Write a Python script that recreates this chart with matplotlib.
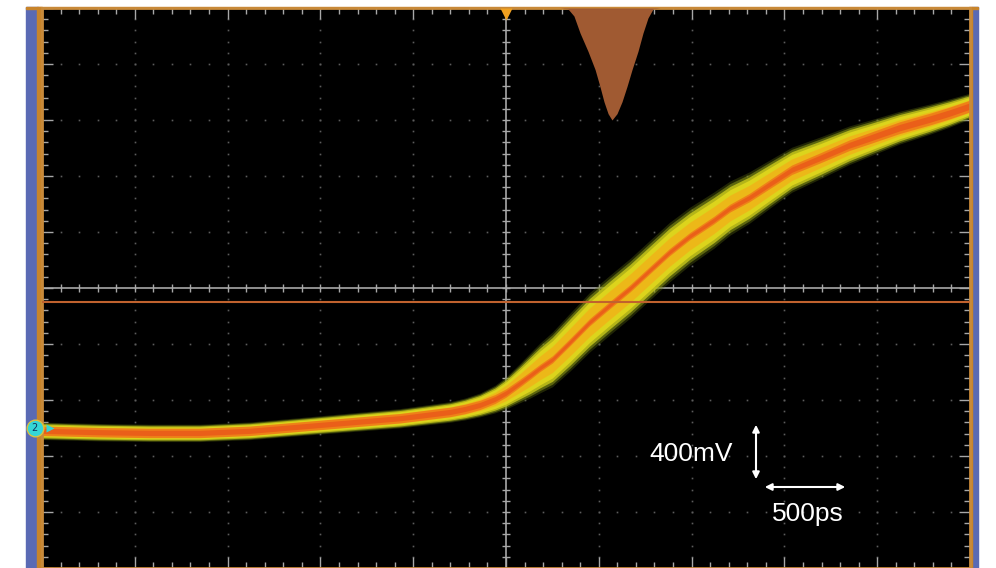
import numpy as np
import matplotlib
matplotlib.use('Agg')
import matplotlib.pyplot as plt
from matplotlib.patches import Rectangle, FancyArrowPatch

# Trace centre line (time in ps, level in mV)
trace_t = [-2500, -2190, -1920, -1650, -1380, -1110, -840, -570, -300, -221, -140, -59,
           0, 75, 130, 183, 250, 345, 450, 560, 670, 776, 880, 991, 1120, 1207, 1310,
           1422, 1540, 1692, 1850, 1961, 2120, 2285, 2390, 2500]
trace_v = [-1020, -1030, -1035, -1035, -1020, -990, -960, -930, -885, -864, -835, -793,
           -750, -679, -625, -571, -510, -386, -245, -121, 0, 129, 255, 371, 485, 571, 645,
           743, 845, 929, 1020, 1071, 1145, 1207, 1250, 1300]
# half width of the persistence band (mV)
band_w = [54, 54, 54, 54, 55, 56, 58, 60, 64, 68, 74, 86,
          100, 122, 140, 155, 170, 180, 185, 185, 185, 185, 185, 180, 175, 168, 160,
          150, 140, 130, 120, 112, 102, 94, 88, 80]
# half width of the hot (red) core (mV)
core_w = [34, 34, 34, 34, 34, 34, 34, 34, 34, 34, 33, 32,
          30, 28, 27, 26, 26, 26, 26, 26, 26, 26, 26, 26, 27, 28, 30,
          32, 34, 36, 38, 40, 42, 42, 42, 42]

# crossing-time histogram at the top of the screen
hist_t = [291, 334, 366, 399, 442, 480, 506, 528, 550, 571, 598, 625, 652, 679,
          711, 738, 765, 792, 830]
hist_h = [0, 7, 57, 179, 310, 440, 560, 670, 755, 800, 755, 670, 560, 440,
          310, 179, 71, 7, 0]

ref_level = -100  # horizontal cursor (mV)

W, H = 996, 568
fig = plt.figure(figsize=(W / 100, H / 100), dpi=100)
fig.patch.set_facecolor('white')

L, R, T, B = 42, 970, 8, 568
ax = fig.add_axes([L / W, 1 - B / H, (R - L) / W, (B - T) / H])
ax.set_facecolor('black')
ax.set_xlim(-2500, 2500)
ax.set_ylim(-2000, 2000)

grid_col = '#a8a8a8'
# edge ticks
ax.set_xticks(np.arange(-2500, 2501, 500))
ax.set_xticks(np.arange(-2500, 2501, 100), minor=True)
ax.set_yticks(np.arange(-2000, 2001, 400))
ax.set_yticks(np.arange(-2000, 2001, 80), minor=True)
ax.tick_params(which='both', direction='in', top=True, right=True, labelbottom=False,
               labelleft=False, color=grid_col, width=1)
ax.tick_params(which='major', length=8)
ax.tick_params(which='minor', length=4)
for s in ax.spines.values():
    s.set_color('#c88a3a')
    s.set_linewidth(2)

# dotted graticule
minor_x = np.arange(-2400, 2401, 100)
minor_y = np.arange(-1920, 1921, 80)
for k in range(-4, 5):
    if k == 0:
        continue
    ax.plot(minor_x, np.full(len(minor_x), k * 400), ls='none', marker='s',
            markersize=1.2, color='#5c5c5c', mec='none', zorder=1)
    ax.plot(np.full(len(minor_y), k * 500), minor_y, ls='none', marker='s',
            markersize=1.2, color='#5c5c5c', mec='none', zorder=1)

# centre cross with ticks
ax.axhline(0, color=grid_col, lw=1.2, zorder=1)
ax.axvline(0, color=grid_col, lw=1.2, zorder=1)
ax.plot(minor_x, np.zeros(len(minor_x)), ls='none', marker='|', markersize=6,
        color=grid_col, zorder=1)
ax.plot(np.zeros(len(minor_y)), minor_y, ls='none', marker='_', markersize=6,
        color=grid_col, zorder=1)

# persistence band, soft edges from several layers
t = np.array(trace_t)
v = np.array(trace_v)
w = np.array(band_w)
c = np.array(core_w)
layers = [(1.15 * w, '#5e6c10', 0.35), (1.04 * w, '#8f9a16', 0.55),
          (0.92 * w, '#c4c41a', 0.85), (0.78 * w, '#dcd41c', 1.0),
          (0.55 * w, '#f0b418', 0.85), (c, '#ef7418', 0.8), (0.55 * c, '#e8441a', 0.55)]
for hw, col, a in layers:
    ax.fill_between(t, v - hw, v + hw, color=col, alpha=a, lw=0, zorder=2)

# histogram
ht = np.array(hist_t)
hh = np.array(hist_h)
ax.fill_between(ht, 2000 - hh, 2000, color='#a05a32', lw=0, zorder=3)

# reference level cursor
ax.axhline(ref_level, color='#c0622e', lw=1.5, zorder=4)

# trigger marker
ax.plot([0], [1960], marker='v', markersize=9, color='#f0a020', mec='none',
        clip_on=False, zorder=6)

# channel 2 marker, just left of the screen
ax.plot([-2540], [-1000], marker='o', markersize=12, color='#34d6d6', mec='#d8c040',
        mew=1, clip_on=False, zorder=10)
ax.text(-2540, -1000, '2', ha='center', va='center', fontsize=7, color='#10305a',
        clip_on=False, zorder=11)
ax.plot([-2455], [-1000], marker='>', markersize=6, color='#34d6d6', mec='none',
        clip_on=False, zorder=10)


def fp(px, py):
    return px / W, 1 - py / H


# bezel strips, under the axes
strip = dict(transform=fig.transFigure, zorder=-1)
fig.patches.append(Rectangle(fp(26, H), 12 / W, (H - 7) / H, color='#5a6ab4', **strip))
fig.patches.append(Rectangle(fp(37, H), 5 / W, (H - 7) / H, color='#c8842a', **strip))
fig.patches.append(Rectangle(fp(972, H), 6 / W, (H - 7) / H, color='#5a6ab4', **strip))
fig.patches.append(Rectangle(fp(969, H), 3 / W, (H - 7) / H, color='#c8842a', **strip))
fig.patches.append(Rectangle(fp(26, 9), 952 / W, 2 / H, color='#c8842a', **strip))

# scale annotation
fig.text(*fp(691, 454), '400mV', ha='center', va='center', color='white',
         fontsize=19, family='Liberation Sans')
fig.text(*fp(808, 514), '500ps', ha='center', va='center', color='white',
         fontsize=19, family='Liberation Sans')
fig.patches.append(FancyArrowPatch(fp(756, 422), fp(756, 482), transform=fig.transFigure,
                                   arrowstyle='<|-|>', mutation_scale=10, color='white',
                                   lw=1.5, zorder=10))
fig.patches.append(FancyArrowPatch(fp(762, 487), fp(848, 487), transform=fig.transFigure,
                                   arrowstyle='<|-|>', mutation_scale=10, color='white',
                                   lw=1.5, zorder=10))

fig.savefig('out.png', dpi=100, facecolor='white')
